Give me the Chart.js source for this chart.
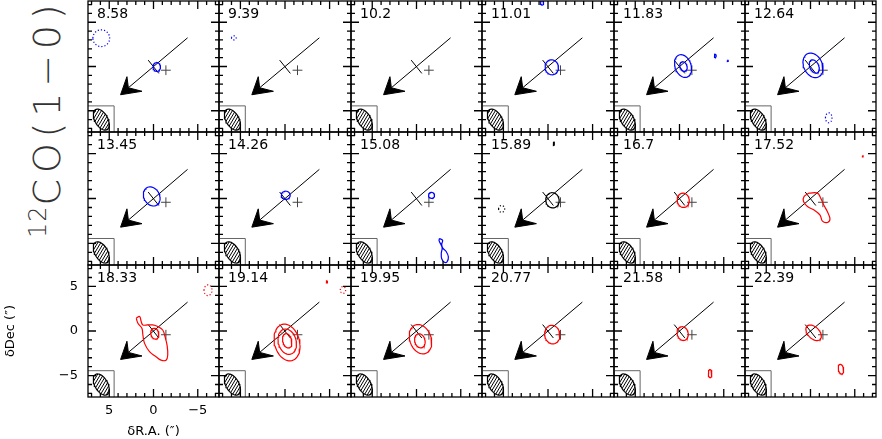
<!DOCTYPE html>
<html>
<head>
<meta charset="utf-8">
<script src="https://cdn.jsdelivr.net/npm/chart.js@4.4.0/dist/chart.umd.min.js"></script>
<style>
  html, body { margin: 0; padding: 0; background: #fff; width: 882px; height: 439px; overflow: hidden; position: relative; }
  .panel { position: absolute; }
  #title {
    position: absolute; left: 27px; top: 238px; transform-origin: 0 0; transform: rotate(-90deg);
    white-space: nowrap; font-family: 'DejaVu Sans'; font-weight: 200; font-size: 38px; line-height: 40px;
    color: #333; letter-spacing: 5.8px;
  }
  #title span { font-size: 24px; position: relative; top: -14px; letter-spacing: 1px; }
</style>
</head>
<body>
<div id="title"><span>12</span>CO(1−0)</div>
<script>
// channel velocities (km/s), one panel each
const velocities = ["8.58", "9.39", "10.2", "11.01", "11.83", "12.64",
                    "13.45", "14.26", "15.08", "15.89", "16.7", "17.52",
                    "18.33", "19.14", "19.95", "20.77", "21.58", "22.39"];

// offsets in arcsec
const axisRange = 7.4;
const minorTicks = [-7, -6, -5, -4, -3, -2, -1, 0, 1, 2, 3, 4, 5, 6, 7];
const majorTicks = [-5, 0, 5];

// overlays repeated in every channel
const arrowShaft = [[-3.85, 3.24], [2.84, -2.4]];
const arrowHead = [[3.72, -3.19], [3.0, -1.15], [2.84, -2.4], [1.3, -2.8], [3.72, -3.19]];
const diskAxis = [[0.6, 0.72], [-0.6, -0.78]];
const starPos = [-1.4, -0.42];
const starArm = 0.55;
const beamBox = [[4.45, -7.4], [4.45, -4.45], [7.4, -4.45]];
const beam = [5.9, -6.0, 0.73, 1.3, 30]; // cx, cy, minor, major, lean

// contours per channel: [colour, negative?, cx, cy, rx, ry, lean deg]
const ellipseContours = [
  [["b", 1, 5.9, 3.2, 0.95, 0.95, 0], ["b", 0, -0.37, -0.05, 0.42, 0.5, 0]],
  [["b", 1, 5.74, 3.23, 0.26, 0.23, 0]],
  [],
  [["b", 0, -0.42, -0.09, 0.75, 0.85, 10], ["b", 0, 0.66, 7.2, 0.18, 0.25, 0]],
  [["b", 0, -0.4, 0.05, 0.9, 1.33, 20], ["b", 0, -0.45, 0.0, 0.4, 0.55, 20], ["b", 0, -4.04, 1.2, 0.1, 0.2, 0], ["b", 0, -5.44, 0.64, 0.07, 0.08, 0]],
  [["b", 0, -0.28, 0.13, 1.05, 1.45, 25], ["b", 0, -0.43, 0.0, 0.5, 0.8, 25], ["b", 1, -2.06, -5.8, 0.37, 0.56, 0]],
  [["b", 0, 0.2, 0.23, 0.88, 1.12, 30]],
  [["b", 0, -0.08, 0.36, 0.5, 0.45, 0]],
  [["b", 0, -1.7, 0.35, 0.34, 0.33, 0]],
  [["k", 0, -0.5, -0.2, 0.75, 0.85, 10], ["k", 0, -0.65, 6.1, 0.07, 0.2, 0], ["k", 1, 5.2, -1.16, 0.34, 0.38, 0]],
  [["r", 0, -0.42, -0.2, 0.68, 0.8, 10]],
  [["r", 0, -5.9, 4.7, 0.07, 0.07, 0]],
  [["r", 0, -0.15, -0.3, 0.45, 0.62, 15], ["r", 1, -6.16, 4.57, 0.45, 0.6, 0]],
  [["r", 0, -0.23, -1.29, 1.4, 2.1, 15], ["r", 0, -0.25, -1.2, 1.0, 1.45, 15], ["r", 0, -0.25, -1.1, 0.5, 0.82, 15], ["r", 0, -4.7, 5.5, 0.08, 0.12, 0], ["r", 1, -6.5, 4.6, 0.3, 0.38, 0]],
  [["r", 0, -0.45, -0.92, 1.2, 1.7, 20], ["r", 0, -0.38, -1.1, 0.58, 0.8, 15]],
  [["r", 0, -0.48, -0.4, 0.85, 1.05, 10]],
  [["r", 0, -0.36, -0.29, 0.62, 0.78, 15], ["r", 0, -3.46, -4.77, 0.21, 0.45, 0]],
  [["r", 0, -0.35, -0.2, 0.65, 1.05, 45], ["r", 0, -3.44, -4.28, 0.3, 0.55, 10]],
];

// irregular contours traced as outlines: [channel index, colour, points]
const outlineContours = [
  [8, "b", [[-2.6, -4.45], [-2.95, -4.65], [-2.85, -5.1], [-2.95, -5.5], [-3.35, -5.9], [-3.6, -6.5], [-3.45, -7.05],
            [-3.15, -7.1], [-2.85, -6.7], [-2.8, -6.1], [-2.9, -5.5], [-2.75, -5.1], [-2.55, -4.7], [-2.6, -4.45]]],
  [11, "r", [[0.16, 0.6], [-0.79, 0.6], [-1.16, 0.03], [-1.53, -0.79], [-1.91, -1.47], [-2.2, -2.29], [-1.91, -2.67],
             [-1.35, -2.52], [-1.08, -1.84], [-0.4, -1.28], [0.34, -0.9], [0.79, -0.34], [0.72, 0.23], [0.16, 0.6]]],
  [12, "r", [[1.95, 1.43], [1.57, 1.62], [1.39, 1.06], [1.2, 0.68], [0.64, 0.68], [0.08, 0.68], [-0.48, 0.5], [-1.04, 0.11],
             [-1.3, -0.63], [-1.53, -1.58], [-1.61, -2.7], [-1.42, -3.27], [-0.85, -3.27], [-0.29, -2.89], [0.45, -2.32],
             [1.01, -1.39], [1.2, -0.45], [1.31, 0.3], [1.76, 0.87], [1.95, 1.43]]],
];

const colours = { b: "#0000ff", r: "#ff0000", k: "#000000" };

// panel frame edges in page pixels
const colX = [88, 219, 351, 482, 614, 745, 876];
const rowY = [1, 132, 265, 397];

const toPts = arr => arr.map(p => ({ x: p[0], y: p[1] }));

function ellipse(cx, cy, rx, ry, lean) {
  const a = lean * Math.PI / 180, pts = [];
  for (let i = 0; i <= 48; i++) {
    const t = i / 48 * 2 * Math.PI;
    const u = rx * Math.cos(t), v = ry * Math.sin(t);
    pts.push({ x: cx + u * Math.cos(a) + v * Math.sin(a), y: cy - u * Math.sin(a) + v * Math.cos(a) });
  }
  return pts;
}

function hatch() {
  const c = document.createElement("canvas");
  c.width = 3; c.height = 5;
  const g = c.getContext("2d");
  g.strokeStyle = "#000"; g.lineWidth = 1;
  g.beginPath();
  g.moveTo(-3, 5); g.lineTo(3, -5);
  g.moveTo(0, 10); g.lineTo(6, 0);
  g.moveTo(0, 5); g.lineTo(3, 0);
  g.stroke();
  return g.createPattern(c, "repeat");
}

function line(data, colour, width, extra) {
  return Object.assign({ data: data, showLine: true, borderColor: colour, borderWidth: width,
    pointRadius: 0, fill: false, tension: 0 }, extra || {});
}

// frame with inward ticks and the velocity label
const framePlugin = {
  id: "frame",
  afterDatasetsDraw(chart, args, opts) {
    const { ctx, chartArea: a, scales: { x, y } } = chart;
    ctx.save();
    ctx.strokeStyle = "#000";
    ctx.lineWidth = 1.3;
    ctx.strokeRect(a.left, a.top, a.right - a.left, a.bottom - a.top);
    ctx.beginPath();
    minorTicks.forEach(v => {
      const len = majorTicks.includes(v) ? 8 : 4;
      const px = x.getPixelForValue(v), py = y.getPixelForValue(v);
      ctx.moveTo(px, a.top); ctx.lineTo(px, a.top + len);
      ctx.moveTo(px, a.bottom); ctx.lineTo(px, a.bottom - len);
      ctx.moveTo(a.left, py); ctx.lineTo(a.left + len, py);
      ctx.moveTo(a.right, py); ctx.lineTo(a.right - len, py);
    });
    ctx.stroke();
    ctx.font = "14px 'DejaVu Sans'";
    ctx.fillStyle = "#000";
    ctx.textBaseline = "alphabetic";
    ctx.fillText(opts.label, a.left + 9, a.top + 17);
    ctx.restore();
  }
};

const tickFont = { family: "DejaVu Sans", size: 13 };
const signed = v => (v < 0 ? "−" + Math.abs(v) : String(v));
const setMajor = axis => { axis.ticks = majorTicks.map(v => ({ value: v })); };

velocities.forEach((vel, i) => {
  const col = i % 6, row = Math.floor(i / 6);
  const axes = i === 12;

  let left = colX[col] - 3, top = rowY[row] - 3;
  let w = colX[col + 1] - colX[col] + 6, h = rowY[row + 1] - rowY[row] + 6;
  let padding = 3;
  if (axes) {
    left = 0; w = colX[col + 1] + 3; h = 439 - top;
    padding = { top: 3, right: 3, left: 0, bottom: 0 };
  }

  const canvas = document.createElement("canvas");
  canvas.className = "panel";
  canvas.width = w; canvas.height = h;
  canvas.style.left = left + "px"; canvas.style.top = top + "px";
  canvas.style.width = w + "px"; canvas.style.height = h + "px";
  document.body.appendChild(canvas);

  const datasets = [];
  ellipseContours[i].forEach(c => {
    datasets.push(line(ellipse(c[2], c[3], c[4], c[5], c[6]), colours[c[0]], 1.2,
      c[1] ? { borderDash: [1.2, 2] } : {}));
  });
  outlineContours.filter(o => o[0] === i).forEach(o => {
    datasets.push(line(toPts(o[2]), colours[o[1]], 1.2, { tension: 0.4 }));
  });

  datasets.push(line(toPts(arrowShaft), "#000", 1));
  datasets.push(line(toPts(arrowHead), "#000", 1, { fill: "shape", backgroundColor: "#000" }));
  datasets.push(line(toPts(diskAxis), "#000", 1));
  datasets.push(line([{ x: starPos[0] - starArm, y: starPos[1] }, { x: starPos[0] + starArm, y: starPos[1] }], "#444", 1));
  datasets.push(line([{ x: starPos[0], y: starPos[1] - starArm }, { x: starPos[0], y: starPos[1] + starArm }], "#444", 1));
  datasets.push(line(toPts(beamBox), "#666", 1));
  datasets.push(line(ellipse(beam[0], beam[1], beam[2], beam[3], beam[4]), "#000", 1.2,
    { fill: "shape", backgroundColor: hatch() }));

  const scaleX = {
    type: "linear", min: -axisRange, max: axisRange, reverse: true, display: axes,
    grid: { display: false, drawTicks: false }, border: { display: false },
    ticks: { font: tickFont, color: "#000", padding: 6, maxRotation: 0, autoSkip: false, callback: signed },
    title: { display: true, text: "δR.A. (″)", font: tickFont, color: "#000", padding: 0 }
  };
  const scaleY = {
    type: "linear", min: -axisRange, max: axisRange, display: axes,
    grid: { display: false, drawTicks: false }, border: { display: false },
    ticks: { font: tickFont, color: "#000", padding: 10, autoSkip: false, callback: signed },
    title: { display: true, text: "δDec (″)", font: tickFont, color: "#000", padding: { top: 3, bottom: 0 } }
  };
  if (axes) {
    scaleX.afterBuildTicks = setMajor;
    scaleY.afterBuildTicks = setMajor;
    scaleX.afterFit = s => { s.height = 42; s.paddingLeft = 0; s.paddingRight = 0; };
    scaleY.afterFit = s => { s.width = 88; s.paddingTop = 0; s.paddingBottom = 0; };
  }

  new Chart(canvas, {
    type: "scatter",
    data: { datasets: datasets },
    options: {
      responsive: false,
      animation: false,
      devicePixelRatio: 1,
      layout: { padding: padding },
      scales: { x: scaleX, y: scaleY },
      plugins: { legend: { display: false }, tooltip: { enabled: false }, frame: { label: vel } }
    },
    plugins: [framePlugin]
  });
});
</script>
</body>
</html>
